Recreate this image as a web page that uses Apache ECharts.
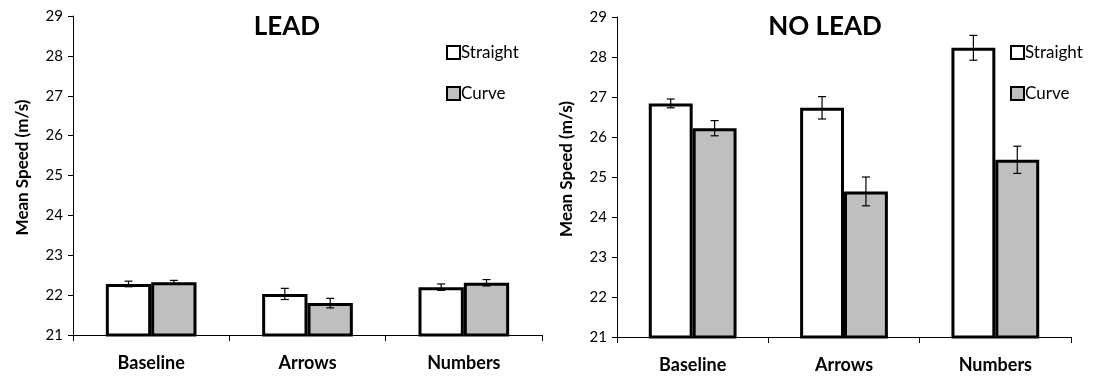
<!DOCTYPE html>
<html>
<head>
<meta charset="utf-8">
<script src="https://cdn.jsdelivr.net/npm/echarts@6/dist/echarts.min.js"></script>
<style>
  html, body { margin: 0; padding: 0; background: #fff; }
  #chart { width: 1099px; height: 376px; }
</style>
</head>
<body>
<div id="chart"></div>
<script>
var categories = ['Baseline', 'Arrows', 'Numbers'];
var leadStraight = [22.28, 22.03, 22.20];
var leadStraightErr = [0.07, 0.14, 0.08];
var leadCurve = [22.32, 21.80, 22.31];
var leadCurveErr = [0.05, 0.12, 0.08];
var noLeadStraight = [26.84, 26.73, 28.23];
var noLeadStraightErr = [0.11, 0.28, 0.31];
var noLeadCurve = [26.22, 24.64, 25.43];
var noLeadCurveErr = [0.19, 0.36, 0.34];

var FONT = 'Lato, "Open Sans", sans-serif';
var GAP = 0.42;

var myChart = echarts.init(document.getElementById('chart'));

function barSeries(name, data, color, idx) {
    return {
        name: name,
        type: 'bar',
        xAxisIndex: idx,
        yAxisIndex: idx,
        data: data,
        barGap: 0,
        barCategoryGap: '42%',
        itemStyle: { color: color, borderColor: '#000', borderWidth: 3 },
        emphasis: { disabled: true }
    };
}

// error bars drawn from the same scales, side -1 = first bar, +1 = second bar
function errSeries(means, errs, side, idx) {
    var data = means.map(function (m, i) { return [i, m - errs[i], m + errs[i]]; });
    return {
        type: 'custom',
        xAxisIndex: idx,
        yAxisIndex: idx,
        z: 10,
        silent: true,
        data: data,
        renderItem: function (params, api) {
            var band = api.size([1, 0])[0];
            var bw = band * (1 - GAP) / 2;
            var lo = api.coord([api.value(0), api.value(1)]);
            var hi = api.coord([api.value(0), api.value(2)]);
            var x = lo[0] + side * bw / 2;
            var cap = 4;
            var st = { stroke: '#000', lineWidth: 1.2 };
            return {
                type: 'group',
                children: [
                    { type: 'line', shape: { x1: x, y1: lo[1], x2: x, y2: hi[1] }, style: st },
                    { type: 'line', shape: { x1: x - cap, y1: lo[1], x2: x + cap, y2: lo[1] }, style: st },
                    { type: 'line', shape: { x1: x - cap, y1: hi[1], x2: x + cap, y2: hi[1] }, style: st }
                ]
            };
        }
    };
}

function xAxis(idx) {
    return {
        type: 'category',
        gridIndex: idx,
        data: categories,
        axisLine: { lineStyle: { color: '#000', width: 1 } },
        axisTick: { show: true, length: 6, lineStyle: { color: '#000' } },
        axisLabel: { color: '#000', fontFamily: FONT, fontWeight: 'bold', fontSize: 18, margin: 19 }
    };
}

function yAxis(idx) {
    return {
        type: 'value',
        gridIndex: idx,
        min: 21,
        max: 29,
        interval: 1,
        name: 'Mean Speed (m/s)',
        nameLocation: 'middle',
        nameGap: 42,
        nameTextStyle: { color: '#000', fontFamily: FONT, fontWeight: 'bold', fontSize: 17, padding: [0, 0, 0, 16] },
        axisLine: { show: true, lineStyle: { color: '#000', width: 1 } },
        axisTick: { show: true, length: 5, lineStyle: { color: '#000' } },
        axisLabel: { color: '#000', fontFamily: FONT, fontSize: 15, margin: 10 },
        splitLine: { show: false }
    };
}

function legend(left) {
    return {
        orient: 'vertical',
        left: left,
        top: 39,
        itemWidth: 13,
        itemHeight: 13,
        itemGap: 24,
        icon: 'rect',
        selectedMode: false,
        textStyle: { color: '#000', fontFamily: FONT, fontSize: 17, padding: [0, 0, 0, -4] },
        data: ['Straight', 'Curve']
    };
}

option = {
    animation: false,
    title: [
        { text: 'LEAD', left: 282, top: 9, textAlign: 'center',
          textStyle: { fontFamily: FONT, fontWeight: 'bold', fontSize: 26, color: '#000' } },
        { text: 'NO LEAD', left: 820, top: 9, textAlign: 'center',
          textStyle: { fontFamily: FONT, fontWeight: 'bold', fontSize: 26, color: '#000' } }
    ],
    legend: [legend(441), legend(1005)],
    grid: [
        { left: 73, right: 557, top: 16, bottom: 41 },
        { left: 617, right: 28, top: 17, bottom: 39 }
    ],
    xAxis: [xAxis(0), xAxis(1)],
    yAxis: [yAxis(0), yAxis(1)],
    series: [
        barSeries('Straight', leadStraight, '#ffffff', 0),
        barSeries('Curve', leadCurve, '#bfbfbf', 0),
        barSeries('Straight', noLeadStraight, '#ffffff', 1),
        barSeries('Curve', noLeadCurve, '#bfbfbf', 1),
        errSeries(leadStraight, leadStraightErr, -1, 0),
        errSeries(leadCurve, leadCurveErr, 1, 0),
        errSeries(noLeadStraight, noLeadStraightErr, -1, 1),
        errSeries(noLeadCurve, noLeadCurveErr, 1, 1)
    ]
};
myChart.setOption(option);
</script>
</body>
</html>
